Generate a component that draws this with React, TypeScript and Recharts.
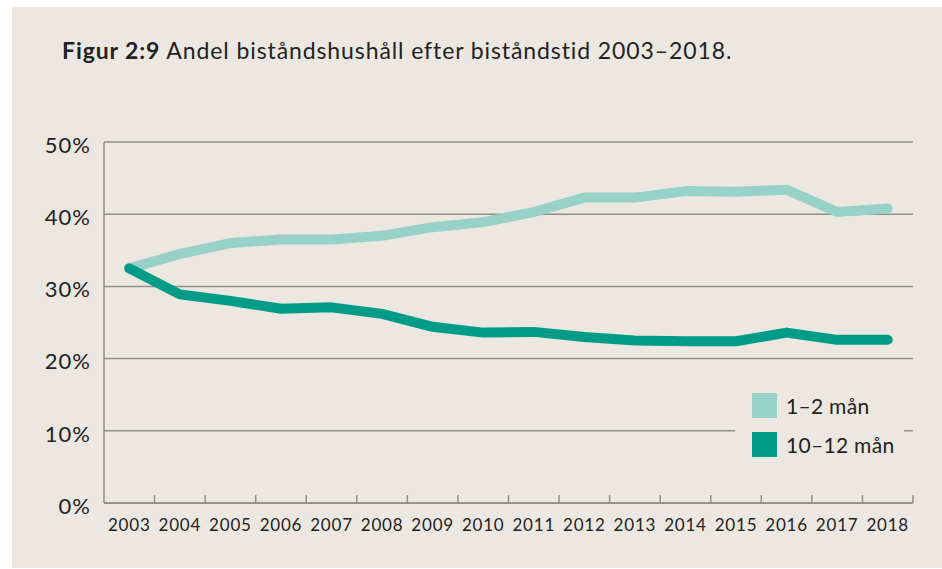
import { LineChart, Line, XAxis, YAxis, CartesianGrid } from "recharts";

const years = [
  2003, 2004, 2005, 2006, 2007, 2008, 2009, 2010, 2011, 2012, 2013, 2014,
  2015, 2016, 2017, 2018,
];
const kort = [
  32.5, 34.5, 36.0, 36.5, 36.5, 37.0, 38.2, 38.9, 40.3, 42.3, 42.3, 43.2,
  43.1, 43.4, 40.3, 40.8,
];
const lang = [
  32.5, 28.9, 28.0, 26.9, 27.1, 26.2, 24.4, 23.6, 23.7, 23.0, 22.5, 22.4,
  22.4, 23.6, 22.6, 22.6,
];
const yTicks = [0, 10, 20, 30, 40, 50];
// labels at the years, tick marks half way between them
const xTicks = years.flatMap((y) => [y, y + 0.5]);

const series = [
  { key: "kort", name: "1–2 mån", color: "#97d1c7" },
  { key: "lang", name: "10–12 mån", color: "#009c88" },
];

const data = years.map((year, i) => ({
  year,
  kort: kort[i],
  lang: lang[i],
}));

const bg = "#ece8e1";
const grid = "#8f8d8a";
const text = "#222222";
const font = "Lato, 'Open Sans', sans-serif";

function YearTick({ x, y, payload }: any) {
  const v = payload.value;
  if (Number.isInteger(v)) {
    return (
      <text
        x={x}
        y={y + 16}
        dy="0.71em"
        textAnchor="middle"
        fill={text}
        fontSize={17}
        fontFamily={font}
        letterSpacing={0.8}
      >
        {v}
      </text>
    );
  }
  return <line x1={x} x2={x} y1={y} y2={y - 8} stroke={grid} strokeWidth={1.5} />;
}

export default function App() {
  return (
    <div
      style={{
        position: "absolute",
        left: 0,
        top: 0,
        width: 942,
        height: 569,
        background: "#ffffff",
      }}
    >
      <div
        style={{
          position: "absolute",
          left: 12,
          top: 7,
          width: 930,
          height: 561,
          background: bg,
        }}
      >
        <div
          style={{
            position: "absolute",
            left: 50,
            top: 29,
            fontFamily: font,
            fontSize: 23,
            letterSpacing: 0.9,
            color: text,
            whiteSpace: "nowrap",
          }}
        >
          <b>Figur 2:9</b> Andel biståndshushåll efter biståndstid 2003–2018.
        </div>
        <LineChart
          width={930}
          height={561}
          data={data}
          margin={{ top: 135, right: 29, left: 0, bottom: 25 }}
        >
          <CartesianGrid
            horizontal
            vertical={false}
            stroke={grid}
            strokeWidth={1.5}
          />
          <XAxis
            dataKey="year"
            type="number"
            domain={[2002.5, 2018.5]}
            ticks={xTicks}
            interval={0}
            height={40}
            tickSize={0}
            tickMargin={0}
            axisLine={{ stroke: grid, strokeWidth: 1.5 }}
            tickLine={false}
            tick={<YearTick />}
          />
          <YAxis
            domain={[0, 50]}
            ticks={yTicks}
            width={92}
            tickSize={0}
            tickMargin={13}
            tickFormatter={(v) => `${v}%`}
            axisLine={{ stroke: grid, strokeWidth: 1.5 }}
            tickLine={false}
            tick={{ fill: text, fontSize: 22, fontFamily: font, letterSpacing: 1, dy: 3 }}
          />
          {series.map((s) => (
            <Line
              key={s.key}
              dataKey={s.key}
              name={s.name}
              stroke={s.color}
              strokeWidth={10}
              strokeLinecap="round"
              strokeLinejoin="round"
              dot={false}
              isAnimationActive={false}
            />
          ))}
        </LineChart>
        <div
          style={{
            position: "absolute",
            left: 723,
            top: 376,
            background: bg,
            padding: "10px 10px 4px 17px",
            fontFamily: font,
            fontSize: 21,
            letterSpacing: 0.3,
            color: text,
          }}
        >
          {series.map((s) => (
            <div
              key={s.key}
              style={{
                display: "flex",
                alignItems: "center",
                height: 25,
                marginBottom: 14,
              }}
            >
              <span
                style={{
                  width: 25,
                  height: 25,
                  background: s.color,
                  marginRight: 9,
                }}
              />
              <span>{s.name}</span>
            </div>
          ))}
        </div>
      </div>
    </div>
  );
}
